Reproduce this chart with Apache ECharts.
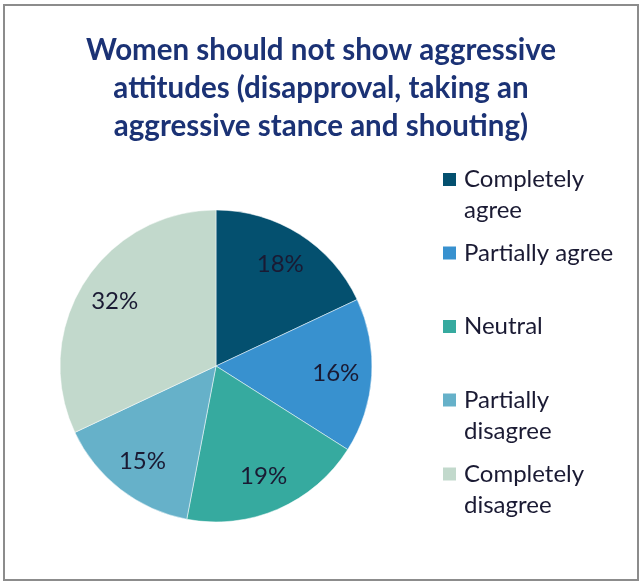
<!DOCTYPE html>
<html><head><meta charset="utf-8">
<script src="https://cdn.jsdelivr.net/npm/echarts@6/dist/echarts.min.js"></script>
<style>html,body{margin:0;padding:0;background:#fff}#c{width:642px;height:583px}</style>
</head><body><div id="c"></div>
<script>
const categories = ['Completely agree','Partially agree','Neutral','Partially disagree','Completely disagree'];
const legendLabels = ['Completely\nagree','Partially agree','Neutral','Partially\ndisagree','Completely\ndisagree'];
const values = [18,16,19,15,32];
const colors = ['#04506F','#3891CF','#36AA9F','#66B1C9','#C2D9CC'];
const legendIconCenters = [179.5,253,326.5,400,474];

const chart = echarts.init(document.getElementById('c'));
const font = 'Lato, "Liberation Sans", sans-serif';
const LH = 31;
const data = categories.map((n,i)=>({name:n,value:values[i],itemStyle:{color:colors[i]}}));
const legends = categories.map((n,i)=>{
  const twoLine = legendLabels[i].indexOf('\n')>=0;
  const top = legendIconCenters[i] - (twoLine ? LH*1.5 : LH/2);
  return {
    data:[n], orient:'vertical', left:441, top:top, padding:0,
    itemWidth:15, itemHeight:15, itemGap:0, icon:'rect',
    selectedMode:false,
    formatter: () => (twoLine ? '\u00a0\n' : '') + legendLabels[i],
    textStyle:{fontFamily:font,fontSize:24,color:'#1a1a33',lineHeight:LH,padding:[0,0,0,2]}
  };
});
chart.setOption({
  animation:false,
  title:{text:'Women should not show aggressive\nattitudes (disapproval, taking an\naggressive stance and shouting)',
    left:'center', top:31, padding:0,
    textStyle:{fontFamily:font,fontSize:29.5,fontWeight:'bold',color:'#1B3275',lineHeight:38}},
  legend:legends,
  graphic:[{type:'rect',shape:{x:4,y:5,width:634,height:575},style:{fill:'none',stroke:'#8c8c8c',lineWidth:2},silent:true}],
  series:[
    {type:'pie',center:[216,366],radius:[0,156],startAngle:90,clockwise:true,
     data:data,label:{show:false},labelLine:{show:false},
     itemStyle:{borderColor:'#fff',borderWidth:0.5},emphasis:{disabled:true}},
    {type:'pie',center:[216,366],radius:[78,156],startAngle:90,clockwise:true,silent:true,
     legendHoverLink:false,
     data:categories.map((n,i)=>({name:n+' ',value:values[i],itemStyle:{color:'rgba(0,0,0,0)'}})),
     label:{show:true,position:'inside',formatter:'{c}%',fontFamily:font,fontSize:24,color:'#1a1a33'},
     labelLine:{show:false},emphasis:{disabled:true}}
  ]
});
</script></body></html>
